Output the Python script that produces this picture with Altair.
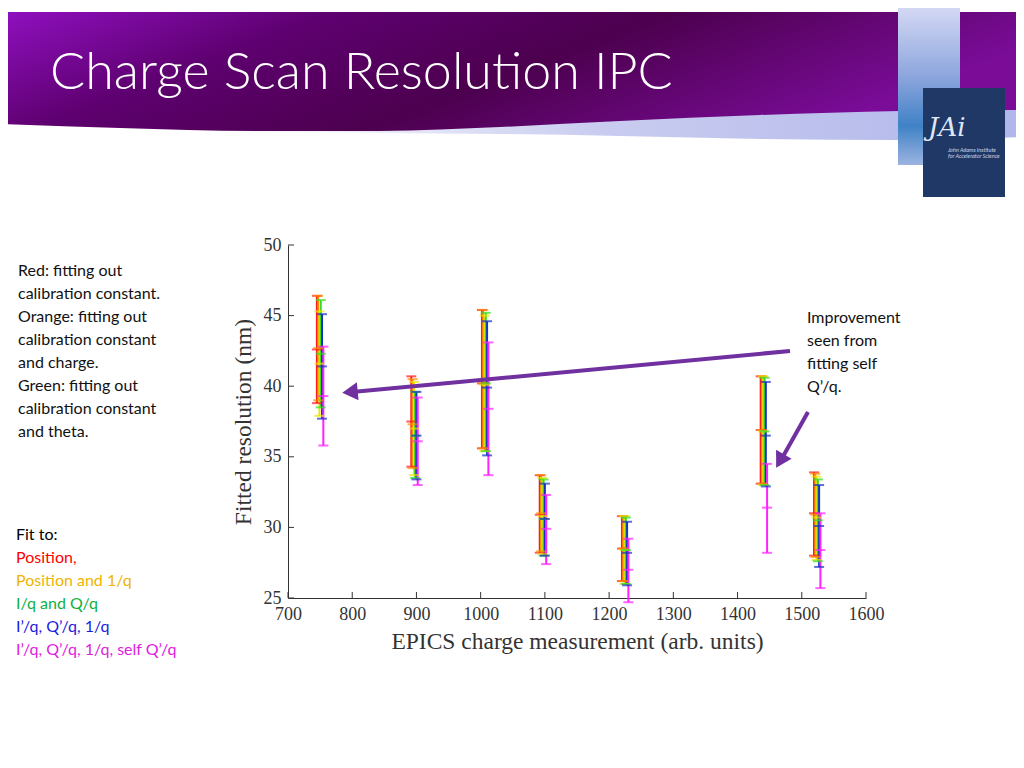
import altair as alt
import pandas as pd

# ---------------- data ----------------
series_names = ["Red", "Orange", "Yellow", "Green", "Blue", "Magenta"]
series_colors = ["#ff1a1a", "#ff8c00", "#ece400", "#33dd22", "#1830c8", "#ff22ff"]
series_offset = [-5, -3, -1, 1, 3, 5]
cluster_charge = [750, 897, 1007, 1097, 1225, 1441, 1524]

center = {
    "Red":     [42.6, 37.5, 40.2, 30.9, 28.5, 36.9, 31.0],
    "Orange":  [42.7, 37.3, 40.2, 31.0, 28.5, 36.9, 30.9],
    "Yellow":  [41.6, 37.0, 40.1, 30.8, 28.4, 36.8, 30.7],
    "Green":   [42.3, 36.5, 40.2, 30.6, 28.4, 36.8, 30.5],
    "Blue":    [41.4, 36.5, 39.9, 30.6, 28.2, 36.5, 30.1],
    "Magenta": [39.3, 36.1, 38.4, 29.9, 27.0, 31.4, 28.4],
}
low = {
    "Red":     [38.8, 34.3, 35.6, 28.2, 26.2, 33.1, 28.0],
    "Orange":  [39.0, 34.2, 35.6, 28.3, 26.2, 33.1, 27.9],
    "Yellow":  [37.9, 33.7, 35.4, 28.1, 26.0, 33.0, 27.7],
    "Green":   [38.5, 33.5, 35.4, 28.0, 26.0, 33.0, 27.6],
    "Blue":    [37.7, 33.4, 35.1, 28.0, 25.9, 32.9, 27.2],
    "Magenta": [35.8, 33.0, 33.7, 27.4, 24.7, 28.2, 25.7],
}
high = {
    "Red":     [46.4, 40.7, 45.4, 33.7, 30.8, 40.7, 33.9],
    "Orange":  [46.4, 40.5, 45.4, 33.7, 30.8, 40.7, 33.8],
    "Yellow":  [45.3, 40.3, 45.0, 33.5, 30.8, 40.7, 33.6],
    "Green":   [46.1, 39.6, 45.2, 33.4, 30.7, 40.6, 33.4],
    "Blue":    [45.1, 39.6, 44.6, 33.1, 30.4, 40.3, 33.0],
    "Magenta": [42.8, 39.2, 43.1, 32.3, 29.2, 34.5, 31.0],
}

x_ticks = [700, 800, 900, 1000, 1100, 1200, 1300, 1400, 1500, 1600]
y_ticks = [25, 30, 35, 40, 45, 50]

left_notes = ["Red: fitting out", "calibration constant.", "Orange: fitting out",
              "calibration constant", "and charge.", "Green: fitting out",
              "calibration constant", "and theta."]
fit_lines = ["Fit to:", "Position,", "Position and 1/q", "I/q and Q/q",
             "I\u2019/q, Q\u2019/q, 1/q", "I\u2019/q, Q\u2019/q, 1/q, self Q\u2019/q"]
fit_colors = ["#000000", "#ff0000", "#f0b400", "#10b040", "#1c1ce0", "#e020e0"]
right_note = ["Improvement", "seen from", "fitting self", "Q\u2019/q."]

rows = []
for i, s in enumerate(series_names):
    for j, q in enumerate(cluster_charge):
        rows.append(dict(series=s, order=i, charge=q + series_offset[i],
                         center=center[s][j], low=low[s][j], high=high[s][j]))
df = pd.DataFrame(rows)

# ---------------- layout helpers (page px -> plot px) ----------------
LEFT, TOP = 288, 245
W, H = 578, 353


def px(v):
    return v - LEFT


def py(v):
    return v - TOP


one = pd.DataFrame({"a": [0]})

xs = alt.Scale(domain=[700, 1600], nice=False, zero=False)
ys = alt.Scale(domain=[25, 50], nice=False, zero=False)
col = alt.Color("series:N", scale=alt.Scale(domain=series_names, range=series_colors), legend=None)

serif = "Liberation Serif"

# ---------------- banner shapes (page-pixel scales) ----------------
page_x = alt.Scale(domain=[0, 1024], range=[px(0), px(1024)], nice=False, zero=False)
page_y = alt.Scale(domain=[0, 768], range=[py(0), py(768)], nice=False, zero=False)

banner_df = pd.DataFrame({
    "x": [0, 120, 260, 380, 500, 620, 760, 900, 1024],
    "top": [12] * 9,
    "bot": [124, 128, 131, 131, 127, 121, 115, 111, 110],
})
swoosh_df = pd.DataFrame({
    "x": [240, 380, 500, 620, 760, 900, 1024],
    "top": [130, 130, 126, 120, 114, 110, 109],
    "bot": [132, 133, 134, 136, 139, 140, 137],
})

banner_grad = alt.Gradient(gradient="linear", x1=0, y1=0, x2=1, y2=0.3, stops=[
    alt.GradientStop(offset=0, color="#9010c0"),
    alt.GradientStop(offset=0.3, color="#5e0070"),
    alt.GradientStop(offset=0.6, color="#4c004e"),
    alt.GradientStop(offset=1, color="#7a0c98")])
swoosh_grad = alt.Gradient(gradient="linear", x1=0, y1=0, x2=1, y2=0, stops=[
    alt.GradientStop(offset=0, color="#ffffff"),
    alt.GradientStop(offset=0.45, color="#cacdf0"),
    alt.GradientStop(offset=1, color="#b0b6ea")])

swoosh = alt.Chart(swoosh_df).mark_area(fill=swoosh_grad, interpolate="monotone").encode(
    x=alt.X("x:Q", scale=page_x, axis=None),
    y=alt.Y("top:Q", scale=page_y, axis=None),
    y2="bot:Q")
banner = alt.Chart(banner_df).mark_area(fill=banner_grad, interpolate="monotone").encode(
    x=alt.X("x:Q", scale=page_x, axis=None),
    y=alt.Y("top:Q", scale=page_y, axis=None),
    y2="bot:Q")

title = alt.Chart(one).mark_text(
    text="Charge Scan Resolution IPC", font="Lato", fontSize=52, fontWeight=300,
    color="white", align="left", baseline="alphabetic").encode(
    x=alt.value(px(50)), y=alt.value(py(89)))

# JAI logo
strip_grad = alt.Gradient(gradient="linear", x1=0, y1=0, x2=0, y2=1, stops=[
    alt.GradientStop(offset=0, color="#d4d8f4"),
    alt.GradientStop(offset=0.45, color="#8aa4dc"),
    alt.GradientStop(offset=0.75, color="#3f82c6"),
    alt.GradientStop(offset=1, color="#9cb4e0")])
strip = alt.Chart(one).mark_rect(fill=strip_grad).encode(
    x=alt.value(px(898)), x2=alt.value(px(960)), y=alt.value(py(8)), y2=alt.value(py(165)))
navy = alt.Chart(one).mark_rect(color="#1f3866").encode(
    x=alt.value(px(923)), x2=alt.value(px(1005)), y=alt.value(py(88)), y2=alt.value(py(197)))
jai = alt.Chart(one).mark_text(text="JAi", font="DejaVu Serif", fontSize=26, fontStyle="italic",
                                color="#dfe6f5", align="left", baseline="alphabetic").encode(
    x=alt.value(px(928)), y=alt.value(py(136)))
jai_small = alt.Chart(one).mark_text(text=["John Adams Institute", "for Accelerator Science"],
                                      font="Lato", fontSize=5.5, fontStyle="italic", lineHeight=6,
                                      color="#cdd6ec", align="left", baseline="alphabetic").encode(
    x=alt.value(px(948)), y=alt.value(py(152)))

# text notes
notes = alt.Chart(one).mark_text(text=left_notes, font="Lato", fontSize=16, lineHeight=23,
                                  color="#111111", align="left", baseline="alphabetic").encode(
    x=alt.value(px(18)), y=alt.value(py(276)))
rnote = alt.Chart(one).mark_text(text=right_note, font="Lato", fontSize=16, lineHeight=23,
                                  color="#111111", align="left", baseline="alphabetic").encode(
    x=alt.value(px(807)), y=alt.value(py(323)))
fit_layers = []
for k, (t, c) in enumerate(zip(fit_lines, fit_colors)):
    fit_layers.append(alt.Chart(one).mark_text(text=t, font="Lato", fontSize=16, color=c,
                                               align="left", baseline="alphabetic").encode(
        x=alt.value(px(16)), y=alt.value(py(540 + 23 * k))))

# arrows
ARROW = "#7030a0"
shaft1 = alt.Chart(one).mark_rule(color=ARROW, strokeWidth=4).encode(
    x=alt.value(px(790)), y=alt.value(py(351)), x2=alt.value(px(352)), y2=alt.value(py(392)))
head1 = alt.Chart(one).mark_point(shape="triangle-up", filled=True, size=320, angle=264.6,
                                   color=ARROW, opacity=1).encode(
    x=alt.value(px(350)), y=alt.value(py(392)))
shaft2 = alt.Chart(one).mark_rule(color=ARROW, strokeWidth=4).encode(
    x=alt.value(px(808)), y=alt.value(py(412)), x2=alt.value(px(781)), y2=alt.value(py(460)))
head2 = alt.Chart(one).mark_point(shape="triangle-up", filled=True, size=320, angle=209.7,
                                   color=ARROW, opacity=1).encode(
    x=alt.value(px(780)), y=alt.value(py(461)))

# ---------------- plot ----------------
base = alt.Chart(df)
bars = base.mark_rule(strokeWidth=2).encode(
    x=alt.X("charge:Q", scale=xs, axis=alt.Axis(
        values=x_ticks, tickSize=0, grid=False, labelFont=serif, labelFontSize=18,
        labelColor="#333333", labelPadding=7, domainColor="#333333", labelFlush=False,
        title="EPICS charge measurement (arb. units)", titleFont=serif, titleFontSize=23.5,
        titleFontWeight="normal", titleColor="#333333", titlePadding=6, format="d")),
    y=alt.Y("low:Q", scale=ys, axis=alt.Axis(
        values=y_ticks, tickSize=0, grid=False, labelFont=serif, labelFontSize=18,
        labelColor="#333333", labelPadding=7, domainColor="#333333", labelFlush=False,
        title="Fitted resolution (nm)", titleFont=serif, titleFontSize=23.5,
        titleFontWeight="normal", titleColor="#333333", titlePadding=8)),
    y2="high:Q",
    color=col,
    order="order:Q")

ticks = base.transform_fold(["low", "center", "high"], as_=["kind", "val"]).mark_tick(
    orient="horizontal", size=10, thickness=2).encode(
    x=alt.X("charge:Q", scale=xs, axis=None),
    y=alt.Y("val:Q", scale=ys, axis=None),
    color=col,
    order="order:Q")

ytick_df = pd.DataFrame({"v": y_ticks})
xtick_df = pd.DataFrame({"v": x_ticks})
ytk = alt.Chart(ytick_df).mark_rule(color="#333333", strokeWidth=1).encode(
    y=alt.Y("v:Q", scale=ys, axis=None), x=alt.value(0), x2=alt.value(6))
xtk = alt.Chart(xtick_df).mark_rule(color="#333333", strokeWidth=1).encode(
    x=alt.X("v:Q", scale=xs, axis=None), y=alt.value(H), y2=alt.value(H - 6))

chart = alt.layer(
    swoosh, banner, strip, navy, jai, jai_small, title, notes, rnote, *fit_layers,
    bars, ticks, ytk, xtk, shaft1, head1, shaft2, head2
).resolve_scale(
    x="independent", y="independent"
).properties(
    width=W, height=H,
    autosize=alt.AutoSizeParams(type="none"),
    padding={"left": LEFT - 8, "top": TOP - 8, "right": 1016 - LEFT - W, "bottom": 760 - TOP - H},
    background="white",
).configure_view(stroke=None)

chart.save("out.html", embed_options={"renderer": "svg", "actions": False})
